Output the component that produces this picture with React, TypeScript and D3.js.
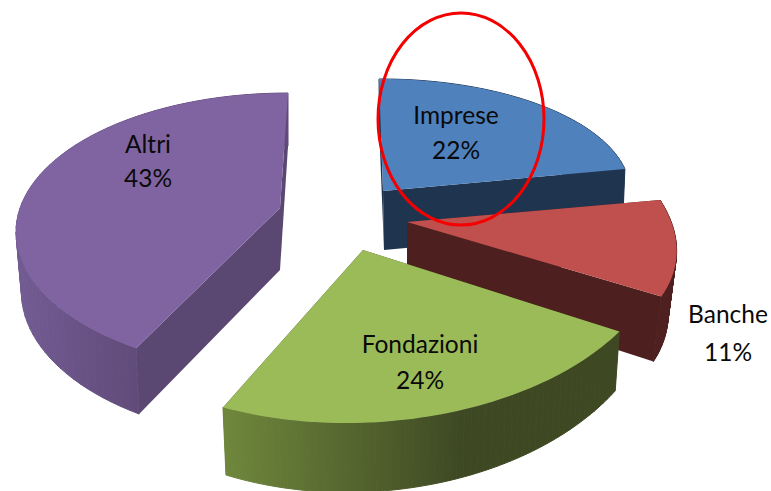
import React from "react";
import * as d3 from "d3";

const categories = ["Imprese", "Banche", "Fondazioni", "Altri"];
const shares = [22, 11, 24, 43];
const percentLabels = ["22%", "11%", "24%", "43%"];

const topColors = ["#4f81bd", "#c0504d", "#9bbb59", "#8064a2"];
const wallColors = ["#1f344f", "#4d1f1e", "#3f4a23", "#5a4772"];
const rimStops = [
  ["#1f344f", "#1f344f"],
  ["#4d1f1e", "#4d1f1e"],
  ["#6f873c", "#3e4923"],
  ["#725b92", "#5f4a78"],
];

// Per-slice view of the exploded, perspective-drawn disc (layout only).
const frames = [
  { apex: [383, 191], c: [383, 191], rx: 247, sx: -4, ry: 112, sy: -1.1, warp: [0, 0], d: [0.5, 59], apexD: [1, 59], kx: 0.988, ky: 1 },
  { apex: [407, 222], c: [407, 222], rx: 266, sx: -44, ry: 145, sy: 5.3, warp: [0, 0], d: [0, 60], apexD: [0, 60], kx: 0.969, ky: 1.067 },
  { apex: [363, 250], c: [363, 250], rx: 300, sx: 13.6, ry: 173, sy: -2, warp: [0, 0], d: [0.5, 50.3], apexD: [0, 50], kx: 0.982, ky: 1.11 },
  { apex: [280, 208], c: [290, 233], rx: 274, sx: -2, ry: 140, sy: 0, warp: [9.4, 0], d: [0, 60], apexD: [0, 62], kx: 0.98, ky: 1.05 },
];

const labelPlaces = [
  { x: 456, y: 124, y2: 159 },
  { x: 728, y: 323, y2: 361 },
  { x: 420, y: 353, y2: 389 },
  { x: 148, y: 153, y2: 187 },
];

const drawOrder = [0, 3, 1, 2];
const FONT = "Lato, 'Open Sans', sans-serif";

type P = [number, number];
const line = d3.line<P>().x((p) => p[0]).y((p) => p[1]);

const arcs = d3.pie<number>().sort(null).value((v) => v)(shares);

function geometry(i: number) {
  const f = frames[i];
  const a = arcs[i];
  const warp = d3
    .scaleLinear()
    .domain([a.startAngle, a.endAngle])
    .range([a.startAngle + (f.warp[0] * Math.PI) / 180, a.endAngle + (f.warp[1] * Math.PI) / 180]);
  const steps = d3.range(0, 61).map((k) => a.startAngle + ((a.endAngle - a.startAngle) * k) / 60);
  const offsets: P[] = steps.map((t) => {
    const w = warp(t);
    return [f.rx * Math.sin(w) + f.sx * Math.cos(w), f.sy * Math.sin(w) - f.ry * Math.cos(w)];
  });
  const top: P[] = offsets.map((o) => [f.c[0] + o[0], f.c[1] + o[1]]);
  const bottom: P[] = offsets.map((o) => [f.c[0] + f.d[0] + o[0] * f.kx, f.c[1] + f.d[1] + o[1] * f.ky]);
  const apex = f.apex as P;
  const apexLow: P = [apex[0] + f.apexD[0], apex[1] + f.apexD[1]];
  return { top, bottom, apex, apexLow };
}

export default function App() {
  return (
    <svg
      width={771}
      height={491}
      viewBox="0 0 771 491"
      style={{ position: "absolute", left: 0, top: 0, background: "#fff" }}
    >
      <defs>
        {drawOrder.map((i) => {
          const g = geometry(i);
          const ext = d3.extent(g.bottom, (p) => p[0]) as [number, number];
          const n = g.top.length - 1;
          return (
            <React.Fragment key={i}>
              <linearGradient id={`rim${i}`} gradientUnits="userSpaceOnUse" x1={ext[0]} x2={i === 2 ? ext[0] + (ext[1] - ext[0]) * 0.6 : i === 3 ? ext[0] + 125 : ext[1]} y1={0} y2={0}>
                <stop offset="0" stopColor={rimStops[i][0]} />
                <stop offset="1" stopColor={rimStops[i][1]} />
              </linearGradient>
              <mask id={`band${i}`} maskUnits="userSpaceOnUse" x={0} y={0} width={771} height={491}>
                {d3.range(n).map((k) => {
                  const quad: P[] = [g.top[k], g.top[k + 1], g.bottom[k + 1], g.bottom[k]];
                  return <path key={k} d={line(quad) + "Z"} fill="#fff" stroke="#fff" strokeWidth={1} />;
                })}
              </mask>
            </React.Fragment>
          );
        })}
      </defs>
      {drawOrder.map((i) => {
        const g = geometry(i);
        const n = g.top.length - 1;
        const wallA: P[] = [g.top[0], g.apex, g.apexLow, g.bottom[0]];
        const wallB: P[] = [g.top[n], g.apex, g.apexLow, g.bottom[n]];
        const face: P[] = [g.apex, ...g.top];
        return (
          <g key={categories[i]}>
            <path d={line(wallA) + "Z"} fill={wallColors[i]} />
            <path d={line(wallB) + "Z"} fill={wallColors[i]} />
            <rect x={0} y={0} width={771} height={491} fill={`url(#rim${i})`} mask={`url(#band${i})`} />
            <path d={line(face) + "Z"} fill={topColors[i]} />
          </g>
        );
      })}
      {categories.map((name, i) => (
        <g key={name} fontFamily={FONT} fontSize={24.5} fill="#0a0a0a" textAnchor="middle">
          <text x={labelPlaces[i].x} y={labelPlaces[i].y}>{name}</text>
          <text x={labelPlaces[i].x} y={labelPlaces[i].y2}>{percentLabels[i]}</text>
        </g>
      ))}
      <ellipse cx={461} cy={119} rx={83} ry={106} fill="none" stroke="#f40000" strokeWidth={3} />
    </svg>
  );
}
